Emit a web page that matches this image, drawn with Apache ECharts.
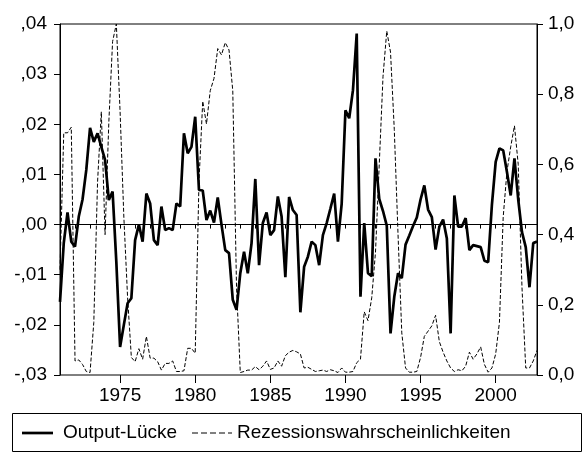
<!DOCTYPE html>
<html>
<head>
    <meta charset="utf-8">
    <title>Output-Lücke und Rezessionswahrscheinlichkeiten</title>
    <script src="https://cdn.jsdelivr.net/npm/echarts@6/dist/echarts.min.js"></script>
</head>
<body style="margin:0">
    <div id="main" style="width: 585px;height:455px;"></div>

    <script type="text/javascript">
        // Quartale 1971Q1 - 2002Q4
        var startYear = 1971;
        var endYear = 2002;
        var quarters = [];
        for (var y = startYear; y <= endYear; y++) {
            for (var q = 1; q <= 4; q++) quarters.push(y + 'Q' + q);
        }

        // Output-Lücke (linke Achse)
        var outputGap = [
            -0.0154, -0.0037, 0.0024, -0.0034, -0.0044, 0.0016, 0.0050, 0.0109,
            0.0193, 0.0165, 0.0182, 0.0155, 0.0129, 0.0049, 0.0066, -0.0075,
            -0.0244, -0.0200, -0.0157, -0.0147, -0.0031, 0.0000, -0.0034, 0.0062,
            0.0042, -0.0031, -0.0041, 0.0036, -0.0011, -0.0007, -0.0011, 0.0042,
            0.0036, 0.0182, 0.0142, 0.0155, 0.0215, 0.0069, 0.0068, 0.0009,
            0.0028, 0.0004, 0.0054, 0.0000, -0.0051, -0.0057, -0.0150, -0.0170,
            -0.0097, -0.0054, -0.0097, -0.0037, 0.0091, -0.0081, 0.0003, 0.0024,
            -0.0021, -0.0011, 0.0056, 0.0016, -0.0105, 0.0055, 0.0029, 0.0019,
            -0.0175, -0.0084, -0.0064, -0.0034, -0.0041, -0.0081, -0.0021, 0.0003,
            0.0032, 0.0062, -0.0034, 0.0042, 0.0228, 0.0212, 0.0268, 0.0381,
            -0.0144, 0.0003, -0.0097, -0.0103, 0.0132, 0.0051, 0.0027, -0.0002,
            -0.0217, -0.0144, -0.0097, -0.0107, -0.0040, -0.0022, -0.0003, 0.0014,
            0.0050, 0.0078, 0.0030, 0.0015, -0.0050, -0.0004, 0.0010, -0.0028,
            -0.0217, 0.0058, -0.0004, -0.0004, 0.0013, -0.0051, -0.0041, -0.0043,
            -0.0045, -0.0072, -0.0075, 0.0040, 0.0125, 0.0152, 0.0148, 0.0105,
            0.0058, 0.0132, 0.0050, -0.0015, -0.0045, -0.0125, -0.0037, -0.0034
        ];

        // Rezessionswahrscheinlichkeiten (rechte Achse)
        var recessionProb = [
            0.30, 0.69, 0.69, 0.706, 0.04, 0.043, 0.03, 0.01,
            0.007, 0.15, 0.55, 0.75, 0.40, 0.72, 0.95, 1.0,
            0.75, 0.45, 0.22, 0.05, 0.038, 0.075, 0.045, 0.11,
            0.048, 0.048, 0.038, 0.014, 0.033, 0.033, 0.04, 0.01,
            0.01, 0.012, 0.076, 0.076, 0.062, 0.55, 0.78, 0.715,
            0.81, 0.845, 0.93, 0.912, 0.947, 0.926, 0.81, 0.25,
            0.007, 0.01, 0.014, 0.014, 0.024, 0.015, 0.025, 0.04,
            0.016, 0.02, 0.04, 0.025, 0.055, 0.065, 0.07, 0.066,
            0.06, 0.02, 0.022, 0.016, 0.01, 0.012, 0.014, 0.01,
            0.015, 0.012, 0.007, 0.02, 0.008, 0.008, 0.01, 0.035,
            0.045, 0.18, 0.155, 0.22, 0.35, 0.6, 0.85, 0.98,
            0.92, 0.70, 0.40, 0.12, 0.02, 0.008, 0.008, 0.01,
            0.05, 0.11, 0.125, 0.14, 0.17, 0.095, 0.065, 0.04,
            0.02, 0.01, 0.015, 0.012, 0.025, 0.065, 0.045, 0.06,
            0.08, 0.03, 0.008, 0.02, 0.06, 0.15, 0.45, 0.58,
            0.65, 0.71, 0.60, 0.25, 0.02, 0.02, 0.04, 0.07
        ];

        var font = 'Liberation Sans, Arial, sans-serif';
        var fontSize = 19;

        function isYearStart(v) { return v.slice(4) === 'Q1'; }
        function isFiveYear(v) { return isYearStart(v) && (+v.slice(0, 4)) % 5 === 0; }

        var myChart = echarts.init(document.getElementById('main'));

        var option = {
            animation: false,
            grid: {
                left: 60, right: 48, top: 24, bottom: 80,
                show: true, borderColor: '#000', borderWidth: 1
            },
            xAxis: [{
                type: 'category',
                data: quarters,
                boundaryGap: false,
                axisLine: { lineStyle: { color: '#000', width: 1 } },
                axisTick: {
                    length: 4,
                    lineStyle: { color: '#000' },
                    interval: function (i, v) { return isYearStart(v); }
                },
                axisLabel: {
                    color: '#000', fontFamily: font, fontSize: fontSize, margin: 11,
                    interval: function (i, v) { return isFiveYear(v); },
                    formatter: function (v) { return v.slice(0, 4); }
                },
                splitLine: { show: false }
            }, {
                // lange Striche alle 5 Jahre
                type: 'category',
                data: quarters,
                position: 'bottom',
                boundaryGap: false,
                axisLine: { show: false },
                axisTick: {
                    length: 8,
                    lineStyle: { color: '#000' },
                    interval: function (i, v) { return isFiveYear(v); }
                },
                axisLabel: { show: false },
                splitLine: { show: false }
            }],
            yAxis: [{
                type: 'value',
                min: -0.03, max: 0.04, interval: 0.01,
                axisLine: { show: true, lineStyle: { color: '#000' } },
                axisTick: { show: true, length: 6, lineStyle: { color: '#000' } },
                axisLabel: {
                    color: '#000', fontFamily: font, fontSize: fontSize, margin: 13,
                    formatter: function (v) {
                        var s = Math.abs(v).toFixed(2).replace('0.', ',');
                        return (v < -1e-9 ? '-' : '') + s;
                    }
                },
                splitLine: { show: false }
            }, {
                type: 'value',
                min: 0, max: 1, interval: 0.2,
                axisLine: { show: true, lineStyle: { color: '#000' } },
                axisTick: { show: true, length: 6, lineStyle: { color: '#000' } },
                axisLabel: {
                    color: '#000', fontFamily: font, fontSize: fontSize, margin: 11,
                    formatter: function (v) { return v.toFixed(1).replace('.', ','); }
                },
                splitLine: { show: false }
            }],
            series: [{
                name: 'Output-Lücke',
                type: 'line',
                data: outputGap,
                yAxisIndex: 0,
                symbol: 'none',
                lineStyle: { color: '#000', width: 2.7 },
                z: 3
            }, {
                name: 'Rezessionswahrscheinlichkeiten',
                type: 'line',
                data: recessionProb,
                yAxisIndex: 1,
                symbol: 'none',
                lineStyle: { color: '#000', width: 1, type: [4, 2] },
                z: 2
            }],
            // Legende als Kasten unten
            graphic: [
                { type: 'rect', shape: { x: 12.5, y: 413.5, width: 569, height: 38 },
                  style: { fill: 'none', stroke: '#000', lineWidth: 1 } },
                { type: 'line', shape: { x1: 22, y1: 433, x2: 53, y2: 433 },
                  style: { stroke: '#000', lineWidth: 2.7 } },
                { type: 'text', x: 63, y: 433,
                  style: { text: 'Output-Lücke', fill: '#000', font: fontSize + 'px ' + font, verticalAlign: 'middle' } },
                { type: 'line', shape: { x1: 192, y1: 433, x2: 232, y2: 433 },
                  style: { stroke: '#000', lineWidth: 1, lineDash: [6, 3] } },
                { type: 'text', x: 237, y: 433,
                  style: { text: 'Rezessionswahrscheinlichkeiten', fill: '#000', font: fontSize + 'px ' + font, verticalAlign: 'middle' } }
            ]
        };

        myChart.setOption(option);
    </script>
</body>
</html>
